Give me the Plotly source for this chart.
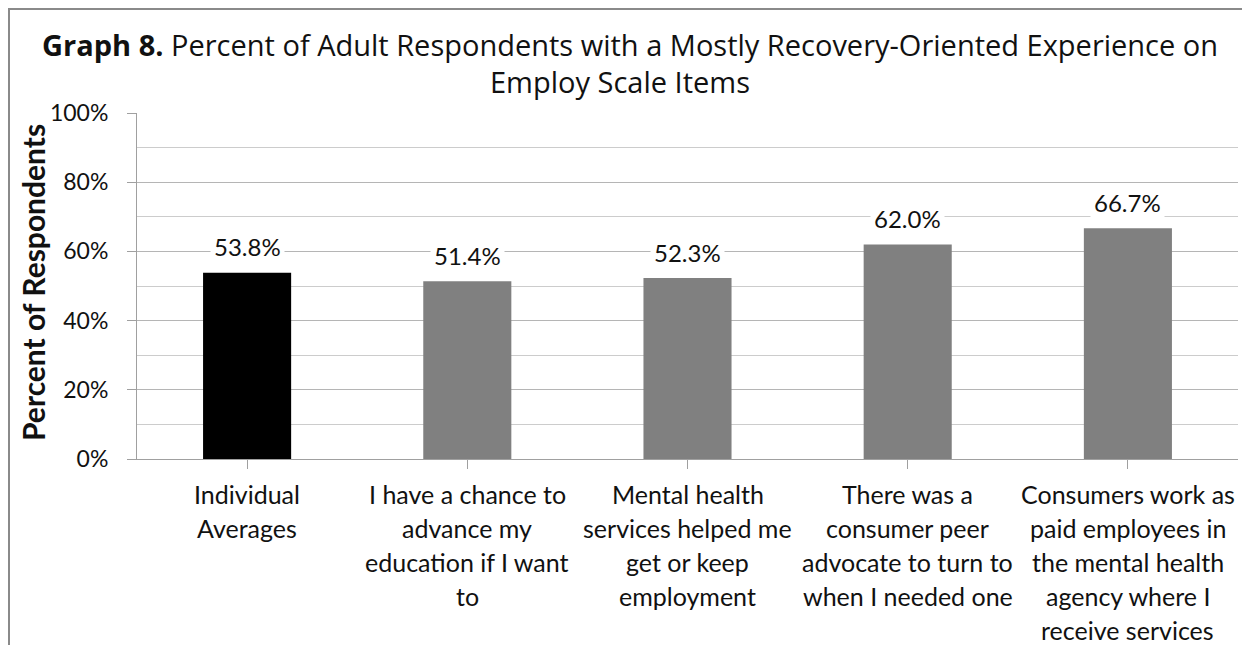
import plotly.graph_objects as go

categories = [
    "Individual<br>Averages",
    "I have a chance to<br>advance my<br>education if I want<br>to",
    "Mental health<br>services helped me<br>get or keep<br>employment",
    "There was a<br>consumer peer<br>advocate to turn to<br>when I needed one",
    "Consumers work as<br>paid employees in<br>the mental health<br>agency where I<br>receive services",
]
values = [53.8, 51.4, 52.3, 62.0, 66.7]
bar_colors = ["#000000", "#808080", "#808080", "#808080", "#808080"]
y_ticks = [0, 20, 40, 60, 80, 100]
y_ticktext = ["0%", "20%", "40%", "60%", "80%", "100%"]
title_line1 = "<b>Graph 8.</b> Percent of Adult Respondents with a Mostly Recovery-Oriented Experience on"
title_line2 = "Employ Scale Items"
y_title = "Percent of Respondents"

FONT = "Lato"
TFONT = "Open Sans"
TXT = "#111111"

# page body has an 8px margin; figure is sized to fill the rest of the window
W, H = 1242, 637
L, R, T, B = 129, 12, 105, 186
PW, PH = W - L - R, H - T - B


def px_x(x):
    return (x - L) / PW


def px_y(y):
    return (H - B - y) / PH


keys = list(range(len(categories)))

fig = go.Figure()
fig.add_trace(go.Bar(
    x=keys, y=values, width=0.4,
    marker=dict(color=bar_colors, line=dict(width=0)),
    hoverinfo="skip",
))

annotations = []
for k, v in zip(keys, values):
    annotations.append(dict(
        x=k, y=v, xref="x", yref="y", text=f"{v:.1f}%", showarrow=False,
        yanchor="middle", yshift=26, bgcolor="white", borderpad=3,
        font=dict(family=FONT, size=24, color=TXT),
    ))
for k, cat in zip(keys, categories):
    for i, line in enumerate(cat.split("<br>")):
        annotations.append(dict(
            x=k, y=0, xref="x", yref="paper", text=line, showarrow=False,
            yanchor="middle", yshift=-35 - 34 * i,
            font=dict(family=FONT, size=25, color=TXT),
        ))
annotations.append(dict(
    x=px_x(622), y=px_y(36), xref="paper", yref="paper", text=title_line1,
    showarrow=False, xanchor="center", yanchor="middle",
    font=dict(family=TFONT, size=29, color=TXT),
))
annotations.append(dict(
    x=px_x(612), y=px_y(74), xref="paper", yref="paper", text=title_line2,
    showarrow=False, xanchor="center", yanchor="middle",
    font=dict(family=TFONT, size=29, color=TXT),
))
annotations.append(dict(
    x=px_x(25), y=px_y(275), xref="paper", yref="paper", text=f"<b>{y_title}</b>",
    showarrow=False, xanchor="center", yanchor="middle", textangle=-90,
    font=dict(family=FONT, size=30, color=TXT),
))

fig.update_layout(
    width=W, height=H,
    margin=dict(l=L, r=R, t=T, b=B),
    paper_bgcolor="white", plot_bgcolor="white",
    showlegend=False,
    annotations=annotations,
    shapes=[dict(
        type="rect", xref="paper", yref="paper",
        x0=px_x(1), x1=px_x(W + 20), y0=px_y(H + 20), y1=px_y(1),
        line=dict(color="#8a8a8a", width=2), layer="below",
    )],
    xaxis=dict(
        range=[-0.5, len(categories) - 0.5],
        tickmode="array", tickvals=keys, ticktext=[""] * len(keys),
        tickson="boundaries", ticks="outside", ticklen=9, tickcolor="#a0a0a0",
        showline=True, linecolor="#a0a0a0", linewidth=1,
        showgrid=False, zeroline=False, fixedrange=True,
    ),
    yaxis=dict(
        range=[0, 100], tickmode="array", tickvals=y_ticks, ticktext=y_ticktext,
        ticks="outside", ticklen=9, tickcolor="#a0a0a0",
        showline=True, linecolor="#a0a0a0", linewidth=1,
        showgrid=True, gridcolor="#b5b5b5", gridwidth=1,
        minor=dict(dtick=10, showgrid=True, gridcolor="#cccccc", ticks=""),
        zeroline=False, ticklabelstandoff=14,
        tickfont=dict(family=FONT, size=23, color=TXT),
    ),
)

fig.write_html("out.html")
